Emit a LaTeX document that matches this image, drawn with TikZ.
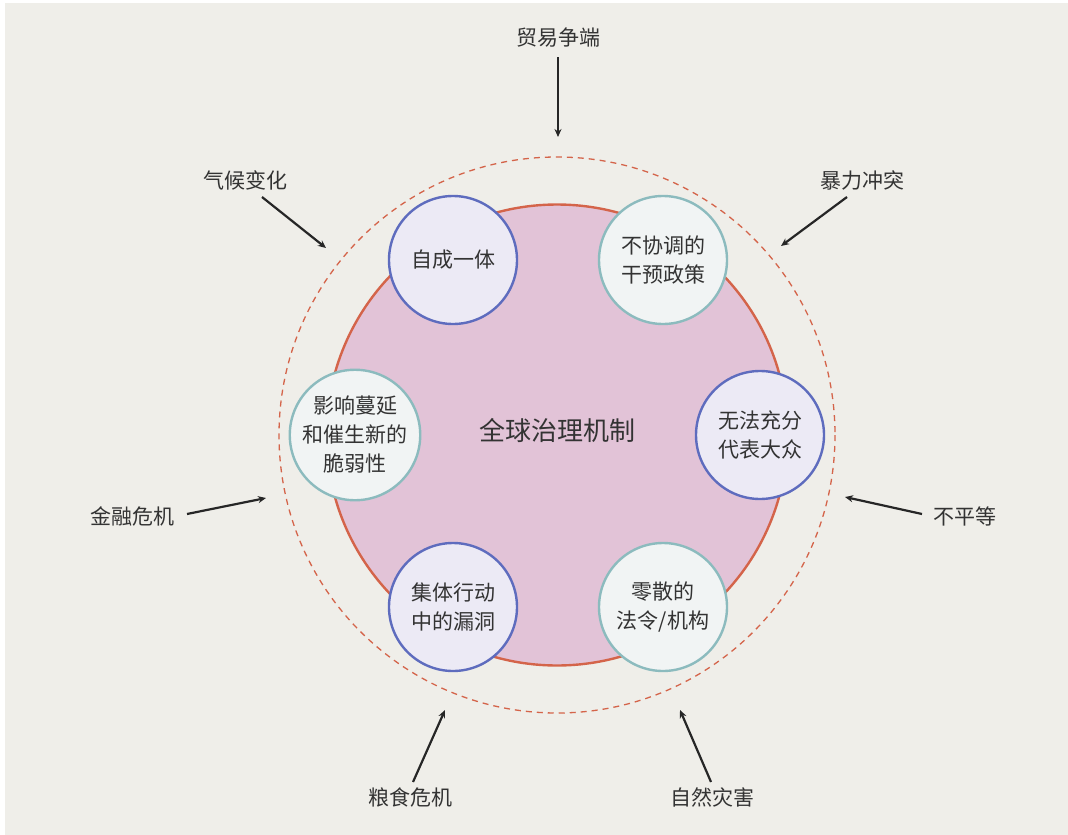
\documentclass[tikz,border=0pt]{standalone}
\usepackage{fontspec}
\setmainfont{Noto Sans CJK SC}
\newfontfamily\cjk{Noto Sans CJK SC}
\usetikzlibrary{arrows.meta}
\definecolor{bgc}{HTML}{EFEEE9}
\definecolor{pinkf}{HTML}{E2C3D7}
\definecolor{redl}{HTML}{D4644A}
\definecolor{bluel}{HTML}{5E6CBE}
\definecolor{bluef}{HTML}{ECEAF5}
\definecolor{teall}{HTML}{8CBBBE}
\definecolor{tealf}{HTML}{F1F4F4}
\definecolor{txt}{HTML}{333333}
\begin{document}
\begin{tikzpicture}[x=1pt,y=-1pt,
  bluecirc/.style={circle,draw=bluel,line width=2.4pt,fill=bluef,minimum size=128pt,inner sep=0pt,align=center,font=\fontsize{21}{29}\selectfont,text=txt},
  tealcirc/.style={circle,draw=teall,line width=2.4pt,fill=tealf,minimum size=128pt,inner sep=0pt,align=center,font=\fontsize{21}{29}\selectfont,text=txt},
  outlabel/.style={font=\fontsize{21}{24}\selectfont,text=txt,inner sep=0pt},
  pusharrow/.style={line width=2.2pt,draw=black!85,-{Stealth[length=8pt,width=7pt]}}]
\useasboundingbox (0,0) rectangle (1068,835);
\fill[white] (0,0) rectangle (1068,835);
\fill[bgc] (5,3) rectangle (1068,835);
\draw[redl,line width=1.3pt,dash pattern=on 6pt off 5pt] (557,435) circle[radius=278];
\node[circle,fill=pinkf,draw=redl,line width=2.4pt,minimum size=461pt,inner sep=0pt] (core) at (557,435) {};
\node[font=\fontsize{26}{30}\selectfont,text=txt] (title) at (557,430) {全球治理机制};
\node[bluecirc] (c1) at (453,260) {自成一体};
\node[tealcirc] (c2) at (663,260) {不协调的\\干预政策};
\node[bluecirc] (c3) at (760,435) {无法充分\\代表大众};
\node[tealcirc] (c4) at (663,607) {零散的\\法令/机构};
\node[bluecirc] (c5) at (453,607) {集体行动\\中的漏洞};
\node[tealcirc] (c6) at (355,435) {影响蔓延\\和催生新的\\脆弱性};
\node[outlabel] (l1) at (558,38) {贸易争端};
\node[outlabel] (l2) at (245,180) {气候变化};
\node[outlabel] (l3) at (862,180) {暴力冲突};
\node[outlabel] (l4) at (132,516) {金融危机};
\node[outlabel] (l5) at (965,516) {不平等};
\node[outlabel] (l6) at (410,797) {粮食危机};
\node[outlabel] (l7) at (712,797) {自然灾害};
\coordinate (e1) at (558,137);
\coordinate (e2) at (326,248);
\coordinate (e3) at (781,246);
\coordinate (e4) at (266,498);
\coordinate (e5) at (845,497);
\coordinate (e6) at (445,710);
\coordinate (e7) at (680,710);
\coordinate (s1) at (558,57);
\coordinate (s2) at (262,197);
\coordinate (s3) at (847,197);
\coordinate (s4) at (187,514);
\coordinate (s5) at (922,514);
\coordinate (s6) at (413,782);
\coordinate (s7) at (711,782);
\foreach \i in {1,...,7} {\draw[pusharrow] (s\i) -- (e\i);}
\end{tikzpicture}
\end{document}
